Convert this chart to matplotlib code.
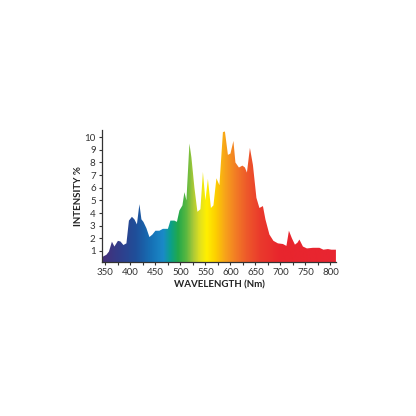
import numpy as np
import matplotlib
matplotlib.use("Agg")
import matplotlib.pyplot as plt
from matplotlib.colors import LinearSegmentedColormap

# spectrum trace (nm, intensity %)
wavelength = [345, 352, 357, 363, 368, 375, 380, 386, 392, 397, 403, 408, 413,
              418, 422, 426, 432, 438, 444, 450, 458, 465, 475, 480, 488, 493,
              498, 504, 508, 512, 518, 522, 528, 534, 540, 545, 550, 555, 561,
              566, 572, 578, 585, 589, 595, 600, 606, 610, 617, 624, 629, 633,
              639, 645, 652, 658, 665, 670, 678, 686, 695, 705, 712, 717, 723,
              729, 734, 738, 745, 753, 765, 778, 786, 795, 802, 811]
intensity = [0.55, 0.7, 0.95, 1.73, 1.35, 1.8, 1.75, 1.47, 1.6, 3.4, 3.7, 3.5,
             3.1, 4.7, 3.5, 3.3, 2.8, 2.1, 2.3, 2.6, 2.6, 2.75, 2.75, 3.4, 3.4,
             3.3, 4.2, 4.6, 5.65, 5.0, 9.5, 8.4, 6.0, 4.1, 4.3, 7.25, 5.0, 6.7,
             4.4, 4.6, 6.75, 6.2, 10.4, 10.45, 8.6, 8.7, 9.7, 8.0, 7.6, 7.75,
             7.6, 7.2, 9.15, 7.8, 5.2, 4.4, 4.55, 3.5, 2.3, 1.8, 1.6, 1.55, 1.4,
             2.6, 2.0, 1.5, 1.65, 1.9, 1.35, 1.2, 1.25, 1.25, 1.1, 1.15, 1.1, 1.1]

# gradient stops (nm, colour)
stop_nm = [345, 380, 410, 440, 465, 480, 495, 512, 525, 538, 552, 570, 590,
           612, 632, 660, 700, 811]
stop_col = ["#45307a", "#2f3f8c", "#1f4f9a", "#1670b5", "#1a8ac8", "#0ba08a",
            "#22a84a", "#5cb840", "#a8c838", "#e0e020", "#fff000", "#fdd000",
            "#f7a21b", "#f27a25", "#ee5a2a", "#ea3a2c", "#e8252d", "#e82531"]

xticks = [350, 400, 450, 500, 550, 600, 650, 700, 750, 800]
yticks = [1, 2, 3, 4, 5, 6, 7, 8, 9, 10]

plt.rcParams['font.family'] = ['Lato', 'DejaVu Sans']

fig = plt.figure(figsize=(4.16, 4.16), dpi=100)
ax = fig.add_axes([0.245, 0.370, 0.5637, 0.317])

x0, x1 = 343, 812
y0, y1 = 0.12, 10.55

pos = [(v - stop_nm[0]) / (stop_nm[-1] - stop_nm[0]) for v in stop_nm]
cmap = LinearSegmentedColormap.from_list("spec", list(zip(pos, stop_col)))
grad = np.linspace(0, 1, 600).reshape(1, -1)
img = ax.imshow(grad, cmap=cmap, aspect='auto',
                extent=[stop_nm[0], stop_nm[-1], 0, 11], origin='lower',
                zorder=1)
poly = ax.fill_between(wavelength, 0, intensity, color='none', lw=0)
clip = poly.get_paths()[0]
img.set_clip_path(clip, transform=ax.transData)

ax.set_xlim(x0, x1)
ax.set_ylim(y0, y1)
ax.set_xticks(xticks)
ax.set_xticks(np.arange(350, 801, 25), minor=True)
ax.set_yticks(yticks)
ax.tick_params(axis='both', labelsize=7, length=2.5, width=0.8,
               color='#333333', labelcolor='#333333', pad=2)
ax.tick_params(axis='x', which='minor', length=2.5, width=0.8, color='#333333')

for side in ['top', 'right']:
    ax.spines[side].set_visible(False)
for side in ['left', 'bottom']:
    ax.spines[side].set_linewidth(0.9)
    ax.spines[side].set_color('#333333')

ax.set_xlabel('WAVELENGTH (Nm)', fontsize=7, fontweight='bold',
              color='#222222', labelpad=2)
ax.set_ylabel('INTENSITY %', fontsize=7, fontweight='bold',
              color='#222222', labelpad=1)

fig.savefig('out.png', dpi=100)
